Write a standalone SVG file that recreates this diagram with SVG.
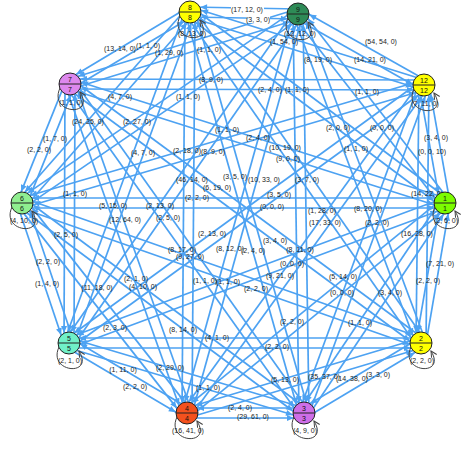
<svg xmlns="http://www.w3.org/2000/svg" width="474" height="449" viewBox="0 0 474 449">
<style>
.e{stroke:#4da2f2;stroke-width:1.7;fill:none;marker-end:url(#a)}
.l{stroke:#444;stroke-width:1;fill:none;marker-end:url(#b)}
.n{stroke:#222;stroke-width:1}
.d{stroke:#222;stroke-width:1}
.nt{font-family:"Liberation Sans",Arial,sans-serif;font-size:7px;fill:#111;text-anchor:middle}
.t{font-family:"Liberation Sans",Arial,sans-serif;font-size:7px;fill:#222;text-anchor:middle}
.bg{fill:#fff}
</style>
<defs>
<marker id="a" markerUnits="userSpaceOnUse" viewBox="-20 -5 20 10" refX="0" refY="0" markerWidth="20" markerHeight="10" orient="auto"><path d="M-17,-3 L-10,0 L-17,3 z" fill="#4da2f2"/></marker>
<marker id="b" markerUnits="userSpaceOnUse" viewBox="-8 -4 9 8" refX="0" refY="0" markerWidth="9" markerHeight="8" orient="auto"><path d="M-6,-3 L0,0 L-6,3" fill="none" stroke="#444" stroke-width="1"/></marker>
</defs>
<rect width="474" height="449" fill="#fff"/>
<g id="connectors">
<line class="e" x1="189.9" y1="17" x2="297.9" y2="19"/>
<line class="e" x1="298.1" y1="9" x2="190.1" y2="7"/>
<line class="e" x1="188.5" y1="16.8" x2="422.5" y2="89.8"/>
<line class="e" x1="425.5" y1="80.2" x2="191.5" y2="7.2"/>
<line class="e" x1="187" y1="16" x2="442" y2="207"/>
<line class="e" x1="448" y1="199" x2="193" y2="8"/>
<line class="e" x1="185.9" y1="14.9" x2="416.9" y2="345.9"/>
<line class="e" x1="425.1" y1="340.1" x2="194.1" y2="9.1"/>
<line class="e" x1="185.2" y1="13.4" x2="299.2" y2="414.4"/>
<line class="e" x1="308.8" y1="411.6" x2="194.8" y2="10.6"/>
<line class="e" x1="185" y1="12" x2="182" y2="413"/>
<line class="e" x1="192" y1="413" x2="195" y2="12"/>
<line class="e" x1="185.3" y1="10.3" x2="64.3" y2="341.3"/>
<line class="e" x1="73.7" y1="344.7" x2="194.7" y2="13.7"/>
<line class="e" x1="186.2" y1="8.7" x2="18.2" y2="199.7"/>
<line class="e" x1="25.8" y1="206.3" x2="193.8" y2="15.3"/>
<line class="e" x1="187.4" y1="7.7" x2="67.4" y2="79.7"/>
<line class="e" x1="72.6" y1="88.3" x2="192.6" y2="16.3"/>
<line class="e" x1="295.5" y1="18.4" x2="421.5" y2="89.4"/>
<line class="e" x1="426.5" y1="80.6" x2="300.5" y2="9.6"/>
<line class="e" x1="294.1" y1="17.1" x2="441.1" y2="206.1"/>
<line class="e" x1="449" y1="199.9" x2="302" y2="10.9"/>
<line class="e" x1="293.3" y1="15.8" x2="416.3" y2="344.8"/>
<line class="e" x1="425.7" y1="341.3" x2="302.7" y2="12.3"/>
<line class="e" x1="293" y1="14.1" x2="299" y2="413.1"/>
<line class="e" x1="309" y1="412.9" x2="303" y2="13.9"/>
<line class="e" x1="293.2" y1="12.7" x2="182.2" y2="411.7"/>
<line class="e" x1="191.8" y1="414.3" x2="302.8" y2="15.3"/>
<line class="e" x1="293.9" y1="11.1" x2="64.9" y2="340.1"/>
<line class="e" x1="73.1" y1="345.9" x2="302.1" y2="16.9"/>
<line class="e" x1="295.2" y1="9.9" x2="19.2" y2="198.9"/>
<line class="e" x1="24.8" y1="207.1" x2="300.8" y2="18.1"/>
<line class="e" x1="296.5" y1="9.2" x2="68.5" y2="79.2"/>
<line class="e" x1="71.5" y1="88.8" x2="299.5" y2="18.8"/>
<line class="e" x1="419.1" y1="85.9" x2="440.1" y2="203.9"/>
<line class="e" x1="449.9" y1="202.1" x2="428.9" y2="84.1"/>
<line class="e" x1="419" y1="84.9" x2="416" y2="342.9"/>
<line class="e" x1="426" y1="343.1" x2="429" y2="85.1"/>
<line class="e" x1="419.3" y1="83.3" x2="299.3" y2="411.3"/>
<line class="e" x1="308.7" y1="414.7" x2="428.7" y2="86.7"/>
<line class="e" x1="420" y1="82.1" x2="183" y2="410.1"/>
<line class="e" x1="191" y1="415.9" x2="428" y2="87.9"/>
<line class="e" x1="421.1" y1="81" x2="66.1" y2="339"/>
<line class="e" x1="71.9" y1="347" x2="426.9" y2="89"/>
<line class="e" x1="422.6" y1="80.2" x2="20.6" y2="198.2"/>
<line class="e" x1="23.4" y1="207.8" x2="425.4" y2="89.8"/>
<line class="e" x1="424" y1="80" x2="70" y2="79"/>
<line class="e" x1="70" y1="89" x2="424" y2="90"/>
<line class="e" x1="440.1" y1="202.2" x2="416.1" y2="342.2"/>
<line class="e" x1="425.9" y1="343.8" x2="449.9" y2="203.8"/>
<line class="e" x1="440.8" y1="200.2" x2="299.8" y2="410.2"/>
<line class="e" x1="308.2" y1="415.8" x2="449.2" y2="205.8"/>
<line class="e" x1="441.8" y1="199.1" x2="183.8" y2="409.1"/>
<line class="e" x1="190.2" y1="416.9" x2="448.2" y2="206.9"/>
<line class="e" x1="443.3" y1="198.3" x2="67.3" y2="338.3"/>
<line class="e" x1="70.7" y1="347.7" x2="446.7" y2="207.7"/>
<line class="e" x1="445" y1="198" x2="22" y2="198"/>
<line class="e" x1="22" y1="208" x2="445" y2="208"/>
<line class="e" x1="446.5" y1="198.2" x2="71.5" y2="79.2"/>
<line class="e" x1="68.5" y1="88.8" x2="443.5" y2="207.8"/>
<line class="e" x1="418.4" y1="338.7" x2="301.4" y2="408.7"/>
<line class="e" x1="306.6" y1="417.3" x2="423.6" y2="347.3"/>
<line class="e" x1="419.6" y1="338.2" x2="185.6" y2="408.2"/>
<line class="e" x1="188.4" y1="417.8" x2="422.4" y2="347.8"/>
<line class="e" x1="421" y1="338" x2="69" y2="338"/>
<line class="e" x1="69" y1="348" x2="421" y2="348"/>
<line class="e" x1="422.7" y1="338.3" x2="23.7" y2="198.3"/>
<line class="e" x1="20.3" y1="207.7" x2="419.3" y2="347.7"/>
<line class="e" x1="424" y1="339" x2="73" y2="80"/>
<line class="e" x1="67" y1="88" x2="418" y2="347"/>
<line class="e" x1="304" y1="408" x2="187" y2="408"/>
<line class="e" x1="187" y1="418" x2="304" y2="418"/>
<line class="e" x1="305.4" y1="408.2" x2="70.4" y2="338.2"/>
<line class="e" x1="67.6" y1="347.8" x2="302.6" y2="417.8"/>
<line class="e" x1="307" y1="409" x2="25" y2="199"/>
<line class="e" x1="19" y1="207" x2="301" y2="417"/>
<line class="e" x1="308.1" y1="410.1" x2="74.1" y2="81.1"/>
<line class="e" x1="65.9" y1="86.9" x2="299.9" y2="415.9"/>
<line class="e" x1="189.6" y1="408.7" x2="71.6" y2="338.7"/>
<line class="e" x1="66.4" y1="347.3" x2="184.4" y2="417.3"/>
<line class="e" x1="190.9" y1="409.9" x2="25.9" y2="199.9"/>
<line class="e" x1="18.1" y1="206.1" x2="183.1" y2="416.1"/>
<line class="e" x1="191.7" y1="411.3" x2="74.7" y2="82.3"/>
<line class="e" x1="65.3" y1="85.7" x2="182.3" y2="414.7"/>
<line class="e" x1="73.7" y1="341.4" x2="26.7" y2="201.4"/>
<line class="e" x1="17.3" y1="204.6" x2="64.3" y2="344.6"/>
<line class="e" x1="74" y1="343" x2="75" y2="84"/>
<line class="e" x1="65" y1="84" x2="64" y2="343"/>
<line class="e" x1="26.6" y1="204.9" x2="74.6" y2="85.9"/>
<line class="e" x1="65.4" y1="82.1" x2="17.4" y2="201.1"/>
<path class="l" d="M180,16 C168,42 216,46 200,20"/>
<path class="l" d="M288,18 C276,44 324,48 308,22"/>
<path class="l" d="M414,89 C402,115 450,119 434,93"/>
<path class="l" d="M435,207 C423,233 471,237 455,211"/>
<path class="l" d="M411,347 C399,373 447,377 431,351"/>
<path class="l" d="M294,417 C282,443 330,447 314,421"/>
<path class="l" d="M177,417 C165,443 213,447 197,421"/>
<path class="l" d="M59,347 C47,373 95,377 79,351"/>
<path class="l" d="M12,207 C0,233 48,237 32,211"/>
<path class="l" d="M60,88 C48,114 96,118 80,92"/>
</g>
<g id="labels">
<rect class="bg" x="231" y="6" width="33" height="7"/>
<text class="t" x="247" y="12">(17, 12, 0)</text>
<rect class="bg" x="247" y="16" width="23" height="7"/>
<text class="t" x="258" y="22">(3, 3, 0)</text>
<text class="t" x="192" y="36">(8, 13, 0)</text>
<text class="t" x="300" y="36">(12, 12, 0)</text>
<text class="t" x="284" y="44">(1, 54, 0)</text>
<text class="t" x="381" y="44">(54, 54, 0)</text>
<text class="t" x="318" y="62">(8, 19, 0)</text>
<text class="t" x="370" y="62">(14, 21, 0)</text>
<text class="t" x="169" y="55">(1, 29, 0)</text>
<text class="t" x="209" y="52">(1, 1, 0)</text>
<text class="t" x="120" y="51">(13, 14, 0)</text>
<text class="t" x="148" y="48">(1, 1, 0)</text>
<text class="t" x="211" y="82">(8, 9, 0)</text>
<text class="t" x="270" y="92">(2, 4, 0)</text>
<text class="t" x="297" y="92">(1, 1, 0)</text>
<text class="t" x="188" y="99">(1, 1, 0)</text>
<text class="t" x="367" y="94">(1, 1, 0)</text>
<text class="t" x="425" y="106">(7, 11, 0)</text>
<text class="t" x="436" y="140">(3, 4, 0)</text>
<text class="t" x="432" y="154">(0, 0, 10)</text>
<text class="t" x="382" y="130">(0, 0, 0)</text>
<text class="t" x="338" y="130">(2, 0, 0)</text>
<text class="t" x="356" y="151">(1, 1, 0)</text>
<text class="t" x="120" y="99">(4, 7, 0)</text>
<text class="t" x="71" y="105">(1, 1, 0)</text>
<text class="t" x="88" y="124">(24, 25, 0)</text>
<text class="t" x="137" y="124">(2, 27, 0)</text>
<text class="t" x="55" y="141">(1, 7, 0)</text>
<text class="t" x="39" y="152">(2, 2, 0)</text>
<text class="t" x="143" y="155">(4, 7, 0)</text>
<text class="t" x="227" y="132">(1, 1, 0)</text>
<text class="t" x="258" y="140">(2, 4, 0)</text>
<text class="t" x="187" y="153">(2, 18, 0)</text>
<text class="t" x="213" y="154">(8, 9, 0)</text>
<text class="t" x="285" y="150">(10, 19, 0)</text>
<text class="t" x="288" y="161">(9, 0, 0)</text>
<text class="t" x="192" y="182">(46, 14, 0)</text>
<text class="t" x="235" y="179">(3, 5, 0)</text>
<text class="t" x="264" y="182">(10, 33, 0)</text>
<text class="t" x="217" y="190">(6, 19, 0)</text>
<text class="t" x="307" y="182">(3, 7, 0)</text>
<text class="t" x="197" y="200">(2, 2, 0)</text>
<text class="t" x="279" y="197">(3, 5, 0)</text>
<text class="t" x="160" y="208">(2, 13, 0)</text>
<text class="t" x="272" y="209">(0, 0, 0)</text>
<text class="t" x="322" y="213">(1, 28, 0)</text>
<text class="t" x="168" y="220">(2, 5, 0)</text>
<text class="t" x="325" y="225">(17, 33, 0)</text>
<text class="t" x="212" y="236">(2, 13, 0)</text>
<text class="t" x="275" y="243">(3, 4, 0)</text>
<text class="t" x="182" y="252">(8, 17, 0)</text>
<text class="t" x="230" y="251">(8, 12, 0)</text>
<text class="t" x="253" y="253">(2, 4, 0)</text>
<text class="t" x="300" y="252">(8, 11, 0)</text>
<text class="t" x="190" y="259">(9, 27, 0)</text>
<text class="t" x="292" y="266">(0, 0, 0)</text>
<text class="t" x="280" y="278">(9, 21, 0)</text>
<text class="t" x="205" y="283">(1, 1, 0)</text>
<text class="t" x="228" y="284">(1, 1, 0)</text>
<text class="t" x="256" y="291">(2, 2, 0)</text>
<text class="t" x="292" y="324">(2, 2, 0)</text>
<text class="t" x="136" y="281">(2, 1, 0)</text>
<text class="t" x="143" y="289">(4, 10, 0)</text>
<text class="t" x="183" y="332">(8, 14, 0)</text>
<text class="t" x="75" y="196">(1, 1, 0)</text>
<text class="t" x="113" y="208">(5, 15, 0)</text>
<text class="t" x="125" y="222">(12, 64, 0)</text>
<text class="t" x="24" y="223">(4, 10, 0)</text>
<text class="t" x="66" y="237">(2, 5, 0)</text>
<text class="t" x="48" y="264">(2, 2, 0)</text>
<text class="t" x="47" y="286">(1, 4, 0)</text>
<text class="t" x="97" y="290">(11, 18, 0)</text>
<text class="t" x="427" y="196">(14, 22, 0)</text>
<text class="t" x="368" y="211">(8, 20, 0)</text>
<text class="t" x="377" y="225">(2, 2, 0)</text>
<text class="t" x="446" y="223">(2, 6, 0)</text>
<text class="t" x="417" y="236">(16, 28, 0)</text>
<text class="t" x="440" y="266">(7, 21, 0)</text>
<text class="t" x="428" y="283">(2, 2, 0)</text>
<text class="t" x="343" y="279">(5, 14, 0)</text>
<text class="t" x="342" y="295">(0, 0, 0)</text>
<text class="t" x="390" y="295">(3, 4, 0)</text>
<text class="t" x="115" y="330">(2, 3, 0)</text>
<text class="t" x="70" y="363">(2, 1, 0)</text>
<text class="t" x="123" y="372">(1, 11, 0)</text>
<text class="t" x="170" y="370">(2, 29, 0)</text>
<text class="t" x="135" y="389">(2, 2, 0)</text>
<text class="t" x="188" y="433">(16, 41, 0)</text>
<text class="t" x="360" y="325">(1, 1, 0)</text>
<text class="t" x="217" y="340">(4, 1, 0)</text>
<text class="t" x="277" y="349">(2, 2, 0)</text>
<text class="t" x="285" y="382">(5, 13, 0)</text>
<text class="t" x="324" y="379">(35, 37, 0)</text>
<text class="t" x="352" y="381">(14, 38, 0)</text>
<text class="t" x="378" y="377">(3, 3, 0)</text>
<text class="t" x="422" y="363">(2, 2, 0)</text>
<text class="t" x="208" y="390">(1, 1, 0)</text>
<text class="t" x="240" y="410">(2, 4, 0)</text>
<text class="t" x="253" y="419">(29, 61, 0)</text>
<text class="t" x="305" y="433">(4, 9, 0)</text>
</g>
<g id="nodes">
<g id="n8"><circle class="n" cx="190" cy="12" r="11" fill="#ffff00"/><line class="d" x1="179" y1="12" x2="201" y2="12"/><text class="nt" x="190" y="9.5">8</text><text class="nt" x="190" y="20">8</text></g>
<g id="n9"><circle class="n" cx="298" cy="14" r="11" fill="#2e8b57"/><line class="d" x1="287" y1="14" x2="309" y2="14"/><text class="nt" x="298" y="11.5">9</text><text class="nt" x="298" y="22">9</text></g>
<g id="n12"><circle class="n" cx="424" cy="85" r="11" fill="#ffff00"/><line class="d" x1="413" y1="85" x2="435" y2="85"/><text class="nt" x="424" y="82.5">12</text><text class="nt" x="424" y="93">12</text></g>
<g id="n1"><circle class="n" cx="445" cy="203" r="11" fill="#7cfc00"/><line class="d" x1="434" y1="203" x2="456" y2="203"/><text class="nt" x="445" y="200.5">1</text><text class="nt" x="445" y="211">1</text></g>
<g id="n2"><circle class="n" cx="421" cy="343" r="11" fill="#ffff00"/><line class="d" x1="410" y1="343" x2="432" y2="343"/><text class="nt" x="421" y="340.5">2</text><text class="nt" x="421" y="351">2</text></g>
<g id="n3"><circle class="n" cx="304" cy="413" r="11" fill="#cf6ee8"/><line class="d" x1="293" y1="413" x2="315" y2="413"/><text class="nt" x="304" y="410.5">3</text><text class="nt" x="304" y="421">3</text></g>
<g id="n4"><circle class="n" cx="187" cy="413" r="11" fill="#f4511e"/><line class="d" x1="176" y1="413" x2="198" y2="413"/><text class="nt" x="187" y="410.5">4</text><text class="nt" x="187" y="421">4</text></g>
<g id="n5"><circle class="n" cx="69" cy="343" r="11" fill="#70f0c8"/><line class="d" x1="58" y1="343" x2="80" y2="343"/><text class="nt" x="69" y="340.5">5</text><text class="nt" x="69" y="351">5</text></g>
<g id="n6"><circle class="n" cx="22" cy="203" r="11" fill="#90ee90"/><line class="d" x1="11" y1="203" x2="33" y2="203"/><text class="nt" x="22" y="200.5">6</text><text class="nt" x="22" y="211">6</text></g>
<g id="n7"><circle class="n" cx="70" cy="84" r="11" fill="#dd88ee"/><line class="d" x1="59" y1="84" x2="81" y2="84"/><text class="nt" x="70" y="81.5">7</text><text class="nt" x="70" y="92">7</text></g>
</g>
</svg>
